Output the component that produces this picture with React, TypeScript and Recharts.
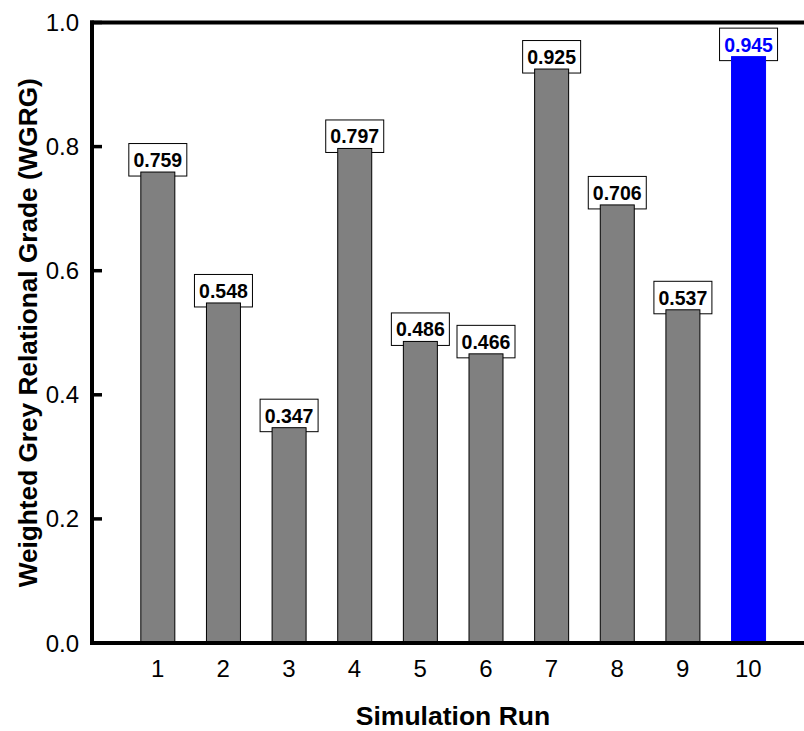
import React from "react";
import { BarChart, Bar, XAxis, YAxis, ReferenceLine } from "recharts";

const runs = [1, 2, 3, 4, 5, 6, 7, 8, 9, 10];
const wgrg = [0.759, 0.548, 0.347, 0.797, 0.486, 0.466, 0.925, 0.706, 0.537, 0.945];
const bestRun = 10;
const yTicks = [0, 0.2, 0.4, 0.6, 0.8, 1.0];

const chartData = runs.map((run, i) => ({ run, wgrg: wgrg[i] }));

const FONT = "'Liberation Sans', Arial, sans-serif";
const GREY = "#808080";
const BLUE = "#0000ff";
const FRAME = 4;

// bar rectangle drawn over its boxed value label
function LabelledBar(props: any) {
  const { x, y, width, height, payload } = props;
  const best = payload.run === bestRun;
  const cx = x + width / 2;
  const boxW = 58;
  const boxH = 32.5;
  return (
    <g>
      <rect
        x={cx - boxW / 2}
        y={y - boxH + 4}
        width={boxW}
        height={boxH}
        fill="#fff"
        stroke="#000"
        strokeWidth={1}
      />
      <text
        x={cx}
        y={y - 5}
        textAnchor="middle"
        fontFamily={FONT}
        fontWeight="bold"
        fontSize={19.5}
        fill={best ? BLUE : "#000"}
      >
        {payload.wgrg.toFixed(3)}
      </text>
      <rect
        x={x}
        y={y}
        width={width}
        height={height}
        fill={best ? BLUE : GREY}
        stroke={best ? BLUE : "#000"}
        strokeWidth={1}
      />
    </g>
  );
}

// thick frame segment
function FrameLine(props: any) {
  const { x1, y1, x2, y2 } = props;
  return (
    <line
      x1={x1}
      y1={y1}
      x2={x2}
      y2={y2}
      stroke="#000"
      strokeWidth={FRAME}
      strokeLinecap="square"
    />
  );
}

function YTick(props: any) {
  const { x, y, payload } = props;
  return (
    <g>
      <line x1={x} x2={x + 10} y1={y} y2={y} stroke="#000" strokeWidth={3.5} />
      <text x={x - 13} y={y} dy={8.5} textAnchor="end" fontFamily={FONT} fontSize={24} fill="#000">
        {payload.value.toFixed(1)}
      </text>
    </g>
  );
}

function XTick(props: any) {
  const { x, y, payload } = props;
  return (
    <text x={x} y={y + 34} textAnchor="middle" fontFamily={FONT} fontSize={24} fill="#000">
      {payload.value}
    </text>
  );
}

function YTitle(props: any) {
  const { viewBox } = props;
  const cy = viewBox.y + viewBox.height / 2;
  const bx = 37;
  return (
    <text
      x={bx}
      y={cy}
      transform={`rotate(-90, ${bx}, ${cy})`}
      textAnchor="middle"
      fontFamily={FONT}
      fontWeight="bold"
      fontSize={26.5}
      textLength={509}
      lengthAdjust="spacingAndGlyphs"
      fill="#000"
    >
      Weighted Grey Relational Grade (WGRG)
    </text>
  );
}

export default function App() {
  return (
    <div
      style={{
        position: "fixed",
        left: 0,
        top: 0,
        width: 804,
        height: 731,
        overflow: "hidden",
        background: "#fff",
        fontFamily: FONT,
      }}
    >
      <BarChart
        width={830}
        height={731}
        data={chartData}
        margin={{ top: 22.5, right: 16, left: 0, bottom: 0 }}
      >
        <XAxis
          type="number"
          dataKey="run"
          domain={[0, 11]}
          ticks={runs}
          height={88}
          tickSize={0}
          tickMargin={0}
          tick={<XTick />}
          axisLine={false}
          label={{
            value: "Simulation Run",
            position: "insideBottom",
            offset: 6,
            style: { fontFamily: FONT, fontWeight: "bold", fontSize: 26.5, fill: "#000" },
          }}
        />
        <YAxis
          type="number"
          domain={[0, 1]}
          ticks={yTicks}
          width={92}
          tickSize={0}
          tickMargin={0}
          tick={<YTick />}
          axisLine={false}
          label={<YTitle />}
        />
        <Bar dataKey="wgrg" barSize={34} shape={<LabelledBar />} isAnimationActive={false} />
        <ReferenceLine y={0} shape={<FrameLine />} ifOverflow="visible" />
        <ReferenceLine y={1} shape={<FrameLine />} ifOverflow="visible" />
        <ReferenceLine x={0} shape={<FrameLine />} ifOverflow="visible" />
      </BarChart>
    </div>
  );
}
